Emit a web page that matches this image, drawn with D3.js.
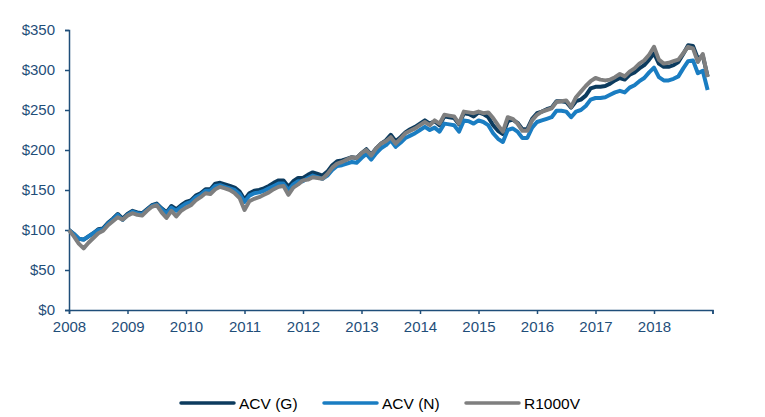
<!DOCTYPE html>
<html lang="en">
<head>
  <meta charset="utf-8">
  <title>ACV vs R1000V</title>
  <script src="https://d3js.org/d3.v7.min.js"></script>
  <style>
    body { margin: 0; background: #fff; }
    svg { font-family: "Liberation Sans", Arial, sans-serif; }
  </style>
</head>
<body>
<svg id="chart" width="765" height="417"></svg>
<script>

// monthly growth of $100, Jan 2008 .. Dec 2018
var yearTicks = [2008, 2009, 2010, 2011, 2012, 2013, 2014, 2015, 2016, 2017, 2018, 2019];
var yTicks = [0, 50, 100, 150, 200, 250, 300, 350];
var seriesNames = ["ACV (G)", "ACV (N)", "R1000V"];

var acvGross = [100, 95, 89, 88, 92, 96, 101, 102, 109, 114, 120, 114,
  120, 124, 122, 121, 126, 131, 133, 127, 122, 130, 126, 131,
  135, 137, 143, 146, 151, 151, 158, 159, 157, 155, 153, 148,
  138, 146, 149, 150, 152, 155, 159, 162, 162, 154, 161, 165,
  165, 169, 172, 170, 168, 173, 181, 186, 187, 189, 191, 190,
  196, 201, 194, 202, 208, 212, 219, 211, 216, 222, 226, 229,
  233, 237, 233, 236, 231, 242, 241, 240, 232, 246, 245, 242,
  247, 245, 241, 231, 224, 220, 236, 238, 234, 226, 226, 239,
  246, 248, 251, 253, 261, 261, 260, 253, 261, 263, 268, 277,
  279, 279, 280, 283, 287, 290, 288, 294, 297, 302, 306, 313,
  321, 308, 304, 304, 306, 310, 320, 331, 330, 314, 318, 292];

var acvNet = [100, 95, 89, 88, 92, 96, 100, 101, 108, 113, 119, 112.5,
  119, 123, 121, 120, 125, 130, 132, 126, 121, 128, 124, 129,
  133, 135, 141, 144, 149, 149, 155, 156, 154, 152, 150, 145,
  135, 143, 146, 147, 149, 152, 155, 158, 158, 150, 157, 161,
  161, 165, 168, 166, 164, 168, 175, 180, 181, 183, 185, 184,
  190, 195, 188, 196, 202, 206, 212, 204, 209, 215, 218, 221,
  225, 229, 225, 228, 223, 233, 232, 231, 223, 237, 236, 233,
  237, 235, 231, 221, 214, 210, 225, 227, 223, 215, 215, 228,
  235, 237, 239, 241, 249, 249, 248, 241, 248, 250, 255, 263,
  265, 265, 266, 269, 272, 274, 272, 278, 281, 286, 290, 297,
  303, 291, 287, 287, 289, 292, 302, 311, 312, 296, 299, 275];

var r1000v = [100, 92, 83, 77, 84, 90, 96, 99, 106, 111, 116, 113,
  118, 121, 119, 118, 124, 129, 131, 122, 115, 124, 117, 124,
  128, 131, 137, 141, 146, 145, 151, 154, 152, 150, 146, 140,
  125, 136, 139, 141, 144, 147, 151, 154, 155, 144, 153, 157,
  162, 163, 166, 165, 164, 170, 178, 183, 185, 188, 191, 190,
  196, 200, 193, 202, 208, 211, 216, 208, 214, 221, 224, 227,
  231, 235, 231, 237, 233, 244, 243, 242, 233, 248, 247, 246,
  248, 246, 247, 240, 231, 223, 241, 239, 233, 224, 224, 237,
  244, 248, 250, 252, 260, 261, 262, 254, 266, 273, 280, 286,
  290, 288, 287, 288, 291, 295, 292, 298, 302, 308, 312, 319,
  329, 313, 308, 309, 311, 313, 321, 329, 327, 310, 320, 291];

var colors = ["#0c3b5e", "#1a7dc2", "#7f7f7f"];
var axisColor = "#1f4e79";

var svg = d3.select("#chart");

var x = d3.scaleLinear().domain([2008, 2019]).range([69, 712.5]);
var y = d3.scaleLinear().domain([0, 350]).range([310, 30]);

// axes
var yAxis = svg.append("g")
    .attr("transform", "translate(69,0)")
    .call(d3.axisLeft(y).tickValues(yTicks).tickSize(4).tickPadding(10)
      .tickFormat(function(d) { return "$" + d; }));

var xAxis = svg.append("g")
    .attr("transform", "translate(0,310)")
    .call(d3.axisBottom(x).tickValues(yearTicks).tickSize(4).tickPadding(7)
      .tickFormat(function(d) { return d < 2019 ? d : ""; }));

[xAxis, yAxis].forEach(function(a) {
  a.select(".domain").attr("stroke", axisColor).attr("stroke-width", 1.5);
  a.selectAll(".tick line").attr("stroke", axisColor).attr("stroke-width", 1.5);
  a.selectAll(".tick text").attr("fill", axisColor).style("font-size", "15px")
    .style("font-family", "'Liberation Sans', Arial, sans-serif");
});

// lines, gross first so the index sits on top
var line = d3.line()
    .x(function(d, i) { return x(2008 + i / 12); })
    .y(function(d) { return y(d); });

[acvGross, acvNet, r1000v].forEach(function(s, k) {
  svg.append("path")
      .datum(s)
      .attr("fill", "none")
      .attr("stroke", colors[k])
      .attr("stroke-width", 4)
      .attr("stroke-linejoin", "round")
      .attr("d", line);
});

// legend
var legendX = [181, 324, 466];
var legend = svg.append("g");
seriesNames.forEach(function(name, k) {
  legend.append("line")
      .attr("x1", legendX[k]).attr("x2", legendX[k] + 53)
      .attr("y1", 403).attr("y2", 403)
      .attr("stroke", colors[k]).attr("stroke-width", 3.5)
      .attr("stroke-linecap", "round");
  legend.append("text")
      .attr("x", legendX[k] + 58)
      .attr("y", 409)
      .attr("fill", "#000")
      .style("font-size", "15.5px")
      .text(name);
});

</script>
</body>
</html>
